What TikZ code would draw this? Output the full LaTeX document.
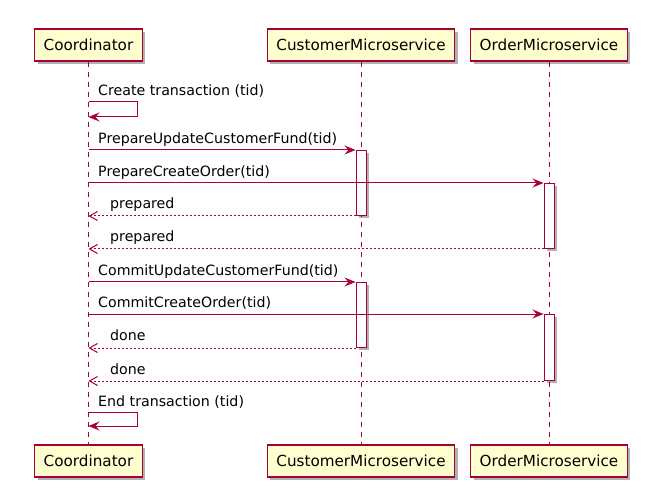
\documentclass[tikz,border=0pt]{standalone}
\usepackage{fontspec}
\setmainfont{DejaVu Sans}
\usetikzlibrary{arrows.meta,shadows}
\definecolor{umlred}{HTML}{A80036}
\definecolor{umlfill}{HTML}{FEFECE}
\begin{document}
\begin{tikzpicture}[x=1pt,y=-1pt,
  partbox/.style={draw=umlred, fill=umlfill, line width=1.3pt,
    minimum height=32pt, inner xsep=9pt, inner ysep=0pt,
    font=\fontsize{15.2}{18}\selectfont, text=black,
    drop shadow={shadow xshift=3pt, shadow yshift=-3pt, fill=black, opacity=0.3}},
  actbox/.style={draw=umlred, fill=white, line width=1pt,
    minimum width=10pt, inner sep=0pt, anchor=north,
    drop shadow={shadow xshift=2.5pt, shadow yshift=-2.5pt, fill=black, opacity=0.3}},
  lifeline/.style={draw=umlred, line width=1pt, dash pattern=on 5pt off 5pt},
  msg/.style={draw=umlred, line width=1pt, -{Stealth[length=11pt,width=9pt,inset=4pt]}},
  reply/.style={draw=umlred, line width=1pt, dash pattern=on 2pt off 2pt,
    -{Straight Barb[length=8pt,width=9pt,line width=1pt]}},
  lbl/.style={anchor=base west, inner sep=0pt, text=black,
    font=\fontsize{14.2}{17}\selectfont},
]
\useasboundingbox (0,0) rectangle (659,497);

% participants, top and bottom
\node[partbox] (pCt) at (88.5,45) {Coordinator};
\node[partbox] (pUt) at (361,45) {CustomerMicroservice};
\node[partbox] (pOt) at (549,45) {OrderMicroservice};
\node[partbox] (pCb) at (88.5,461) {Coordinator};
\node[partbox] (pUb) at (361,461) {CustomerMicroservice};
\node[partbox] (pOb) at (549,461) {OrderMicroservice};

% lifelines
\draw[lifeline] (pCt.south) -- (pCb.north);
\draw[lifeline] (pUt.south) -- (pUb.north);
\draw[lifeline] (pOt.south) -- (pOb.north);

% activation bars
\node[actbox, minimum height=65pt] (aU1) at (361,150) {};
\node[actbox, minimum height=65pt] (aO1) at (549,183) {};
\node[actbox, minimum height=65pt] (aU2) at (361,282) {};
\node[actbox, minimum height=66pt] (aO2) at (549,314) {};

% points on the coordinator lifeline
\coordinate (s1a) at (88.5,102);
\coordinate (s1b) at (88.5,117);
\coordinate (s2a) at (88.5,412);
\coordinate (s2b) at (88.5,426);

% prepare phase
\draw[msg] (s1a) -- ++(48.5,0) |- (s1b);
\node[lbl] (t1) at (98,96) {Create transaction (tid)};

\draw[msg] (pCt |- aU1.north west) -- (aU1.north west);
\node[lbl] (t2) at (98,144) {PrepareUpdateCustomerFund(tid)};

\draw[msg] (pCt |- aO1.north west) -- (aO1.north west);
\node[lbl] (t3) at (98,177) {PrepareCreateOrder(tid)};

\draw[reply] (aU1.south west) -- (pCt |- aU1.south west);
\node[lbl] (t4) at (110,209) {prepared};

\draw[reply] (aO1.south west) -- (pCt |- aO1.south west);
\node[lbl] (t5) at (110,242) {prepared};

% commit phase
\draw[msg] (pCt |- aU2.north west) -- (aU2.north west);
\node[lbl] (t6) at (98,276) {CommitUpdateCustomerFund(tid)};

\draw[msg] (pCt |- aO2.north west) -- (aO2.north west);
\node[lbl] (t7) at (98,308) {CommitCreateOrder(tid)};

\draw[reply] (aU2.south west) -- (pCt |- aU2.south west);
\node[lbl] (t8) at (110,341) {done};

\draw[reply] (aO2.south west) -- (pCt |- aO2.south west);
\node[lbl] (t9) at (110,374) {done};

\draw[msg] (s2a) -- ++(48.5,0) |- (s2b);
\node[lbl] (t10) at (98,406) {End transaction (tid)};
\end{tikzpicture}
\end{document}
